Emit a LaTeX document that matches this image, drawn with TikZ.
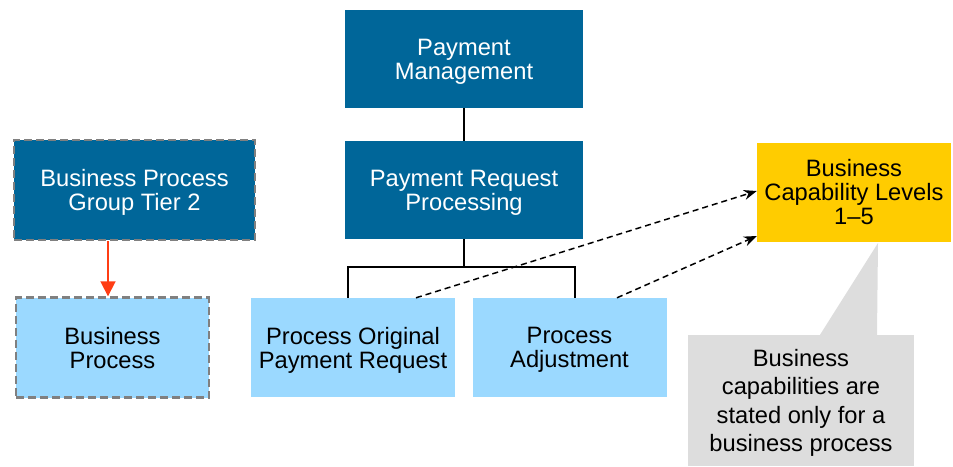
\documentclass[tikz,border=0pt]{standalone}
\usepackage{fontspec}
\setmainfont{Liberation Sans}
\usetikzlibrary{arrows.meta}

\definecolor{darkblue}{HTML}{006699}
\definecolor{lightblue}{HTML}{9BD9FF}
\definecolor{capyellow}{HTML}{FFCC00}
\definecolor{notegray}{HTML}{DDDDDD}
\definecolor{framegray}{HTML}{808080}
\definecolor{arrowred}{HTML}{FF3D14}

\begin{document}
\begin{tikzpicture}[x=1pt,y=-1pt]
\tikzstyle{every node}=[font=\fontsize{23.7}{24}\selectfont, align=center, inner sep=0pt, text depth=0pt]
\tikzstyle{dark}=[fill=darkblue, text=white]
\tikzstyle{light}=[fill=lightblue, text=black]
\tikzstyle{tierframe}=[draw=framegray, line width=2.4pt, dash pattern=on 8pt off 4pt]

% fix the page size
\useasboundingbox (0,0) rectangle (953,466);

% top of the tree
\node [dark, minimum width=238pt, minimum height=98pt] (mgmt) at (464,59) {Payment\\Management};
\node [dark, minimum width=238pt, minimum height=98pt] (req) at (464,190) {Payment Request\\Processing};
\node [light, minimum width=204pt, minimum height=99pt] (orig) at (353,347.5) {Process Original\\Payment Request};
\node [light, minimum width=194pt, minimum height=99pt] (adj) at (569.5,347.5) {Process\\Adjustment};

% left hand legend
\node [dark, tierframe, minimum width=241pt, minimum height=100pt] (tier) at (134.5,190) {Business Process\\Group Tier 2};
\node [light, tierframe, minimum width=193pt, minimum height=100pt] (bp) at (112.5,347.5) {Business\\Process};

% capability levels and the note below
\node [fill=capyellow, minimum width=194pt, minimum height=99pt] (levels) at (854,192) {Business\\Capability Levels\\1--5};
\node [fill=notegray, minimum width=226pt, minimum height=131pt, font=\fontsize{23.7}{28.5}\selectfont] (note) at (801,400.5) {Business\\capabilities are\\stated only for a\\business process};
\coordinate (tip) at (878,243);
\fill [notegray] (note.north west -| 820,0) -- (tip) -- (note.north west -| 877,0) -- cycle;

% tree lines
\draw [line width=1.6pt] (mgmt) -- (req);
\draw [line width=1.6pt] (req.south) -- ++(0,28) -| (orig.north -| 348,0);
\draw [line width=1.6pt] (req.south) ++(0,28) -| (adj.north -| 575,0);

% arrows
\draw [arrowred, line width=1.8pt, -{Triangle[length=15pt,width=15pt]}] (tier.south -| 108,0) -- (bp.north -| 108,0);
\draw [line width=1.5pt, dash pattern=on 6pt off 4pt, -{Stealth[length=13pt,width=10pt]}] (orig.north -| 416,0) -- (levels.west |- 0,191);
\draw [line width=1.5pt, dash pattern=on 6pt off 4pt, -{Stealth[length=13pt,width=10pt]}] (adj.north -| 617,0) -- (levels.west |- 0,236);

\end{tikzpicture}
\end{document}
